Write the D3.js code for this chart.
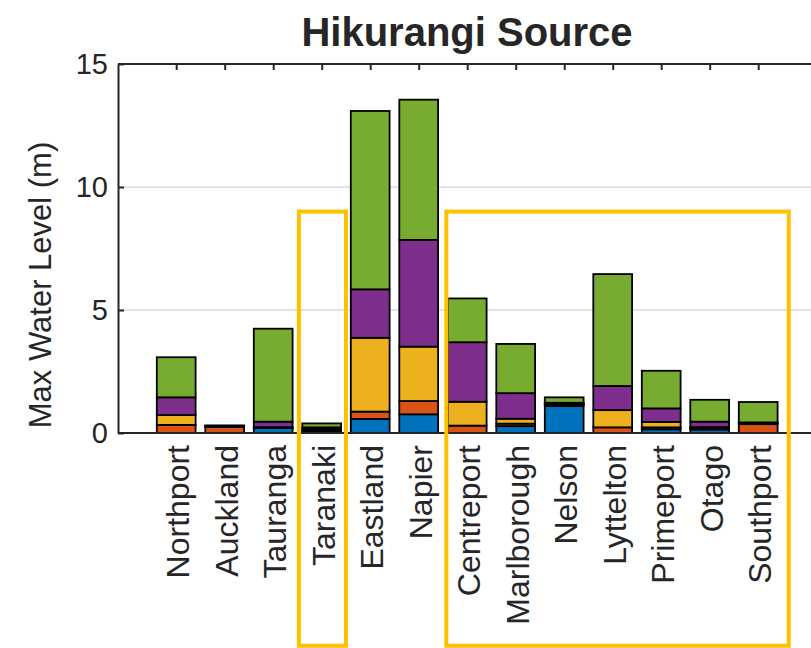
<!DOCTYPE html>
<html>
<head>
<meta charset="utf-8">
<script src="https://cdn.jsdelivr.net/npm/d3@7"></script>
<style>
  body { margin: 0; background: #fff; }
  text { font-family: "Liberation Sans", Arial, sans-serif; fill: #262626; }
</style>
</head>
<body>
<script>
'use strict';

// ports along the x axis
let ports = ["Northport", "Auckland", "Tauranga", "Taranaki", "Eastland", "Napier",
  "Centreport", "Marlborough", "Nelson", "Lyttelton", "Primeport", "Otago", "Southport"];

// stacked segment heights (m), bottom to top
let seriesBlue   = [0.00, 0.00, 0.20, 0.06, 0.57, 0.76, 0.00, 0.28, 1.10, 0.00, 0.15, 0.14, 0.00];
let seriesOrange = [0.33, 0.24, 0.02, 0.06, 0.30, 0.54, 0.30, 0.10, 0.05, 0.23, 0.08, 0.06, 0.36];
let seriesYellow = [0.40, 0.02, 0.02, 0.05, 3.00, 2.21, 0.97, 0.20, 0.04, 0.70, 0.22, 0.04, 0.03];
let seriesPurple = [0.72, 0.02, 0.22, 0.06, 1.97, 4.34, 2.42, 1.04, 0.04, 0.98, 0.55, 0.22, 0.04];
let seriesGreen  = [1.63, 0.03, 3.78, 0.16, 7.25, 5.70, 1.78, 2.00, 0.22, 4.55, 1.53, 0.89, 0.83];

let seriesColors = ["#0072BD", "#D95319", "#EDB120", "#7E2F8E", "#77AC30"];

let yTicks = [0, 5, 10, 15];

// highlight boxes [x from, x to] in category units, [y bottom, y top] in metres
let highlightX = [[2.53, 3.50], [5.57, 12.63]];
let highlightY = [-8.65, 9.0];

let svg = d3.select("body").append("svg")
  .attr("width", 811)
  .attr("height", 648);

let xScale = d3.scaleLinear().domain([-1.2, 13.2]).range([118, 816.4]);
let yScale = d3.scaleLinear().domain([0, 15]).range([433, 64]);

// grid lines
svg.append("g").selectAll("line")
  .data(yTicks.filter(d => d > 0 && d < 15))
  .enter().append("line")
  .attr("x1", xScale(-1.2)).attr("x2", 811)
  .attr("y1", d => yScale(d)).attr("y2", d => yScale(d))
  .attr("stroke", "#e3e3e3").attr("stroke-width", 2);

// stack the series
let table = ports.map((p, i) => ({
  port: p, i: i,
  s0: seriesBlue[i], s1: seriesOrange[i], s2: seriesYellow[i], s3: seriesPurple[i], s4: seriesGreen[i]
}));
let stack = d3.stack().keys(["s0", "s1", "s2", "s3", "s4"])(table);

let barW = xScale(0.8) - xScale(0);
svg.append("g").selectAll("g")
  .data(stack)
  .enter().append("g")
  .attr("fill", (d, k) => seriesColors[k])
  .selectAll("rect")
  .data(d => d)
  .enter().append("rect")
  .attr("x", d => xScale(d.data.i) - barW / 2)
  .attr("width", barW)
  .attr("y", d => yScale(d[1]))
  .attr("height", d => yScale(d[0]) - yScale(d[1]))
  .attr("stroke", "#000")
  .attr("stroke-width", 1.8);

// axes
let yAxis = d3.axisLeft(yScale).tickValues(yTicks).tickSizeInner(-6).tickSizeOuter(0).tickPadding(10);
let gy = svg.append("g").attr("transform", "translate(118,0)").call(yAxis);
gy.select(".domain").attr("stroke", "#262626").attr("stroke-width", 2);
gy.selectAll(".tick line").attr("stroke", "#262626").attr("stroke-width", 2);
gy.selectAll(".tick text").style("font-size", "29px").attr("fill", "#262626")
  .style("font-family", "Liberation Sans, Arial, sans-serif");

let topAxis = d3.axisBottom(xScale).tickValues(d3.range(ports.length)).tickSize(6).tickFormat("");
let gt = svg.append("g").attr("transform", "translate(0,64)").call(topAxis);
gt.select(".domain").remove();
gt.selectAll(".tick line").attr("stroke", "#262626").attr("stroke-width", 2);
svg.append("line").attr("x1", 118).attr("x2", 811).attr("y1", 64).attr("y2", 64)
  .attr("stroke", "#262626").attr("stroke-width", 2);
svg.append("line").attr("x1", 118).attr("x2", 811).attr("y1", 433).attr("y2", 433)
  .attr("stroke", "#262626").attr("stroke-width", 2);

// category labels
svg.append("g").selectAll("text")
  .data(ports)
  .enter().append("text")
  .attr("transform", (d, i) => "translate(" + (xScale(i) + 13) + ",445)rotate(-90)")
  .attr("text-anchor", "end")
  .style("font-size", "32px")
  .text(d => d);

// y label and title
svg.append("text")
  .attr("transform", "translate(51,285)rotate(-90)")
  .attr("text-anchor", "middle")
  .style("font-size", "31px")
  .text("Max Water Level (m)");

svg.append("text")
  .attr("x", 467).attr("y", 46)
  .attr("text-anchor", "middle")
  .style("font-size", "40px")
  .style("font-weight", "bold")
  .attr("fill", "#000")
  .text("Hikurangi Source");

// highlight boxes
svg.append("g").selectAll("rect")
  .data(highlightX)
  .enter().append("rect")
  .attr("x", d => xScale(d[0]))
  .attr("width", d => xScale(d[1]) - xScale(d[0]))
  .attr("y", yScale(highlightY[1]))
  .attr("height", yScale(highlightY[0]) - yScale(highlightY[1]))
  .attr("fill", "none")
  .attr("stroke", "#FFC000")
  .attr("stroke-width", 4);
</script>
</body>
</html>
